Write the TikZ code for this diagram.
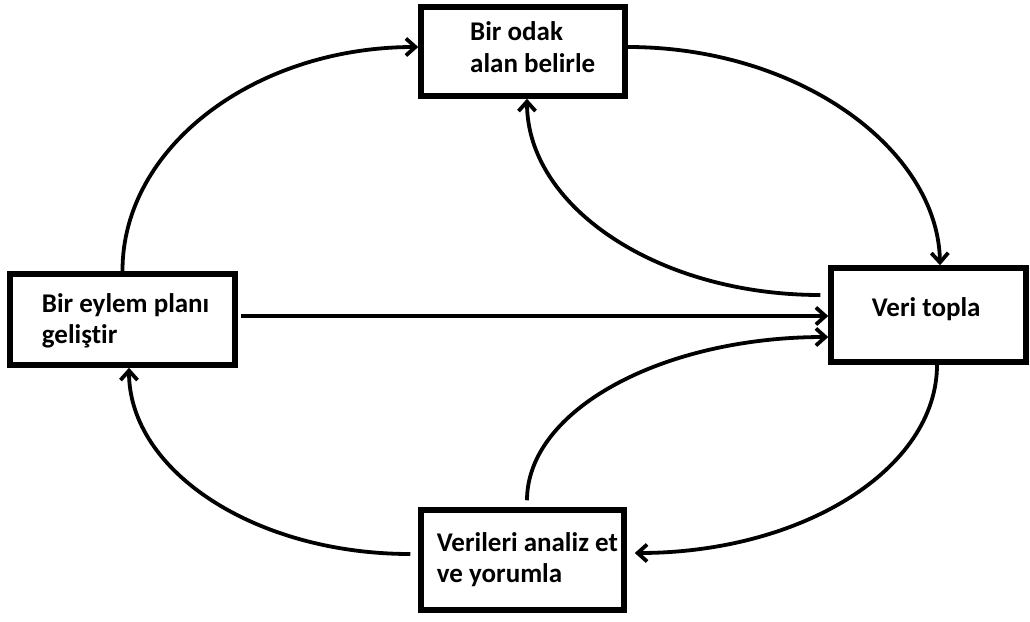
\documentclass[tikz,border=0pt]{standalone}
\usepackage{fontspec}
\setmainfont[Ligatures=NoCommon]{Carlito}
\usetikzlibrary{arrows.meta,calc}
\begin{document}
\begin{tikzpicture}[x=1pt,y=-1pt,
  box/.style={draw, line width=5.5pt, inner sep=0pt, fill=white},
  txt/.style={anchor=base west, inner sep=0pt, font={\fontsize{27}{30.5}\selectfont\bfseries}},
  arr/.style={line width=3.8pt, -{Straight Barb[length=9.5pt,width=17pt]}}]
\useasboundingbox (0,0) rectangle (1030,621);
% boxes
\node[box, minimum width=204pt, minimum height=89pt] (odak) at (523,51.5) {};
\node[box, minimum width=225pt, minimum height=91pt] (eylem) at (122.5,319.5) {};
\node[box, minimum width=195pt, minimum height=94pt] (veri) at (928.5,315) {};
\node[box, minimum width=203pt, minimum height=100pt] (analiz) at (522.5,560) {};
% texts
\node[txt] (todak) at (470,40.7) {\begin{tabular}[t]{@{}l@{}}Bir odak\\[1.5pt]alan belirle\end{tabular}};
\node[txt] (teylem) at (41.7,312.7) {\begin{tabular}[t]{@{}l@{}}Bir eylem planı\\geliştir\end{tabular}};
\node[txt] (tveri) at (871.7,316.7) {Veri topla};
\node[txt] (tanaliz) at (436.7,551.7) {\begin{tabular}[t]{@{}l@{}}Verileri analiz et\\ve yorumla\end{tabular}};
% connectors
\draw[arr] (eylem.north) .. controls (122,147) and (255,47) .. ([yshift=4.5pt]odak.west);
\draw[arr] ([yshift=4.5pt]odak.east) .. controls (800,47) and (938,150) .. ([xshift=11.5pt]veri.north);
\coordinate (s3) at ($(veri.west)+(-8,-20)$);
\draw[arr] (s3) .. controls (658,295) and (527,207) .. ([xshift=4pt]odak.south);
\draw[arr] ([xshift=3pt,yshift=3.5pt]eylem.east) -- ([yshift=-1pt]veri.west);
\coordinate (s5) at ([xshift=4.5pt,yshift=7pt]analiz.north);
\draw[arr] (s5) .. controls (527,410) and (662,337) .. ([yshift=-22pt]veri.west);
\draw[arr] ([xshift=8.5pt]veri.south) .. controls (937,469) and (802,553) .. ([xshift=8pt,yshift=7pt]analiz.east);
\coordinate (s7) at ([xshift=-8pt,yshift=6pt]analiz.west);
\draw[arr] (s7) .. controls (255,554) and (129,471) .. ([xshift=6.5pt]eylem.south);
\end{tikzpicture}
\end{document}
